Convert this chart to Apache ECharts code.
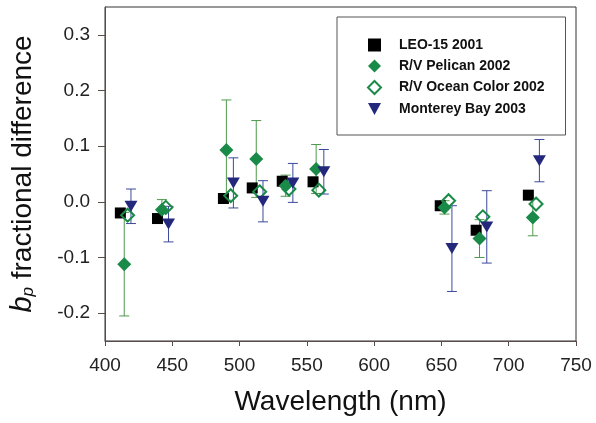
<!DOCTYPE html>
<html>
<head>
<meta charset="utf-8">
<script src="https://cdn.jsdelivr.net/npm/echarts@6/dist/echarts.min.js"></script>
<style>
  html, body { margin: 0; padding: 0; background: #fff; }
  #chart { width: 596px; height: 423px; }
</style>
</head>
<body>
<div id="chart"></div>
<script>
// values
var seriesNames = ["LEO-15 2001", "R/V Pelican 2002", "R/V Ocean Color 2002", "Monterey Bay 2003"];

var leoX = [411.4, 439, 488, 509.4, 531.7, 554.6, 649.1, 675.8, 714.6];
var leoY = [-0.020, -0.030, 0.006, 0.025, 0.037, 0.036, -0.007, -0.051, 0.012];

var pelicanX = [414.3, 442.3, 490.2, 512.4, 534.2, 556.9, 652.3, 678.3, 717.9];
var pelicanY = [-0.112, -0.014, 0.093, 0.077, 0.029, 0.059, -0.010, -0.066, -0.028];
var pelicanErr = [0.093, 0.018, 0.090, 0.069, 0.019, 0.044, 0.012, 0.034, 0.033];

var oceanX = [416.8, 445.2, 493.4, 514.9, 536.7, 558.9, 655.3, 680.8, 720.3];
var oceanY = [-0.024, -0.010, 0.011, 0.018, 0.023, 0.021, 0.002, -0.027, -0.004];

var montereyX = [419.3, 447.2, 495.4, 517.4, 539.6, 562.6, 657.8, 683.7, 722.8];
var montereyY = [-0.008, -0.040, 0.034, 0.001, 0.034, 0.054, -0.084, -0.045, 0.074];
var montereyErr = [0.031, 0.032, 0.045, 0.037, 0.035, 0.040, 0.077, 0.065, 0.038];

var yTicks = [-0.2, -0.1, 0.0, 0.1, 0.2, 0.3];

var green = "#1a8a48";
var blue = "#24287c";
var font = "Arial, 'Liberation Sans', sans-serif";
// 倒三角图标 (legend 不会继承 symbolRotate)
var downTriangle = "path://M0,0 L12,0 L6,11 Z";

function pts(xs, ys) {
  return xs.map(function (x, i) { return [x, ys[i]]; });
}
function bars(xs, ys, errs) {
  return xs.map(function (x, i) { return [x, ys[i] - errs[i], ys[i] + errs[i]]; });
}

// 误差线
function errorBar(color) {
  return function (params, api) {
    var lo = api.coord([api.value(0), api.value(1)]);
    var hi = api.coord([api.value(0), api.value(2)]);
    var cap = 5;
    var style = { stroke: color, lineWidth: 1 };
    return {
      type: "group",
      children: [
        { type: "line", shape: { x1: lo[0], y1: lo[1], x2: hi[0], y2: hi[1] }, style: style },
        { type: "line", shape: { x1: lo[0] - cap, y1: lo[1], x2: lo[0] + cap, y2: lo[1] }, style: style },
        { type: "line", shape: { x1: hi[0] - cap, y1: hi[1], x2: hi[0] + cap, y2: hi[1] }, style: style }
      ]
    };
  };
}

var chart = echarts.init(document.getElementById("chart"));
var axisColor = "#5a4c46";

chart.setOption({
  animation: false,
  textStyle: { fontFamily: font },
  grid: {
    left: 104, right: 20, top: 7, bottom: 82,
    show: true, borderColor: "#333", borderWidth: 1
  },
  legend: {
    data: [
      { name: seriesNames[0] },
      { name: seriesNames[1] },
      { name: seriesNames[2] },
      { name: seriesNames[3], icon: downTriangle }
    ],
    orient: "vertical",
    left: 337,
    top: 17,
    padding: [21, 21, 19, 30],
    itemGap: 7,
    itemWidth: 13,
    itemHeight: 13,
    borderColor: "#555",
    borderWidth: 1,
    backgroundColor: "#fff",
    textStyle: { fontFamily: font, fontSize: 14, fontWeight: "bold", color: "#111", padding: [0, 0, 0, 13] }
  },
  xAxis: {
    type: "value",
    min: 400, max: 750, interval: 50,
    name: "Wavelength (nm)",
    nameLocation: "middle",
    nameGap: 47,
    nameTextStyle: { fontSize: 28, color: "#111", fontFamily: font },
    axisLine: { onZero: false, lineStyle: { color: axisColor } },
    axisTick: { inside: false, length: 5, lineStyle: { color: axisColor } },
    axisLabel: { fontSize: 19, color: "#222", margin: 15 },
    splitLine: { show: false }
  },
  yAxis: {
    type: "value",
    min: -0.25, max: 0.35,
    name: "{i|b}{s|p}{t| fractional difference}",
    nameLocation: "middle",
    nameGap: 68,
    nameTextStyle: {
      color: "#111",
      rich: {
        i: { fontSize: 29, fontStyle: "italic", fontFamily: font, color: "#111", verticalAlign: "bottom" },
        s: { fontSize: 17, fontStyle: "italic", fontFamily: font, color: "#111", verticalAlign: "bottom", padding: [12, 0, 0, 0] },
        t: { fontSize: 28, fontFamily: font, color: "#111", verticalAlign: "bottom" }
      }
    },
    axisLine: { onZero: false, lineStyle: { color: axisColor } },
    axisTick: { length: 7, customValues: yTicks, lineStyle: { color: axisColor } },
    axisLabel: {
      fontSize: 19, color: "#222", margin: 15,
      customValues: yTicks,
      formatter: function (v) { return v.toFixed(1); }
    },
    splitLine: { show: false }
  },
  series: [
    {
      name: seriesNames[0],
      type: "scatter",
      symbol: "rect",
      symbolSize: 11,
      itemStyle: { color: "#000", opacity: 1 },
      data: pts(leoX, leoY)
    },
    {
      name: "pelicanErr",
      type: "custom",
      renderItem: errorBar("#4f9a4c"),
      data: bars(pelicanX, pelicanY, pelicanErr)
    },
    {
      name: seriesNames[1],
      type: "scatter",
      symbol: "diamond",
      symbolSize: 14,
      itemStyle: { color: green, opacity: 1 },
      data: pts(pelicanX, pelicanY)
    },
    {
      name: seriesNames[2],
      type: "scatter",
      symbol: "diamond",
      symbolSize: 13,
      itemStyle: { color: "rgba(255,255,255,0)", borderColor: green, borderWidth: 2, opacity: 1 },
      data: pts(oceanX, oceanY)
    },
    {
      name: "montereyErr",
      type: "custom",
      renderItem: errorBar("#3c4a9a"),
      data: bars(montereyX, montereyY, montereyErr)
    },
    {
      name: seriesNames[3],
      type: "scatter",
      symbol: "triangle",
      symbolRotate: 180,
      symbolSize: [13, 11],
      itemStyle: { color: blue, opacity: 1 },
      data: pts(montereyX, montereyY)
    }
  ]
});
</script>
</body>
</html>
